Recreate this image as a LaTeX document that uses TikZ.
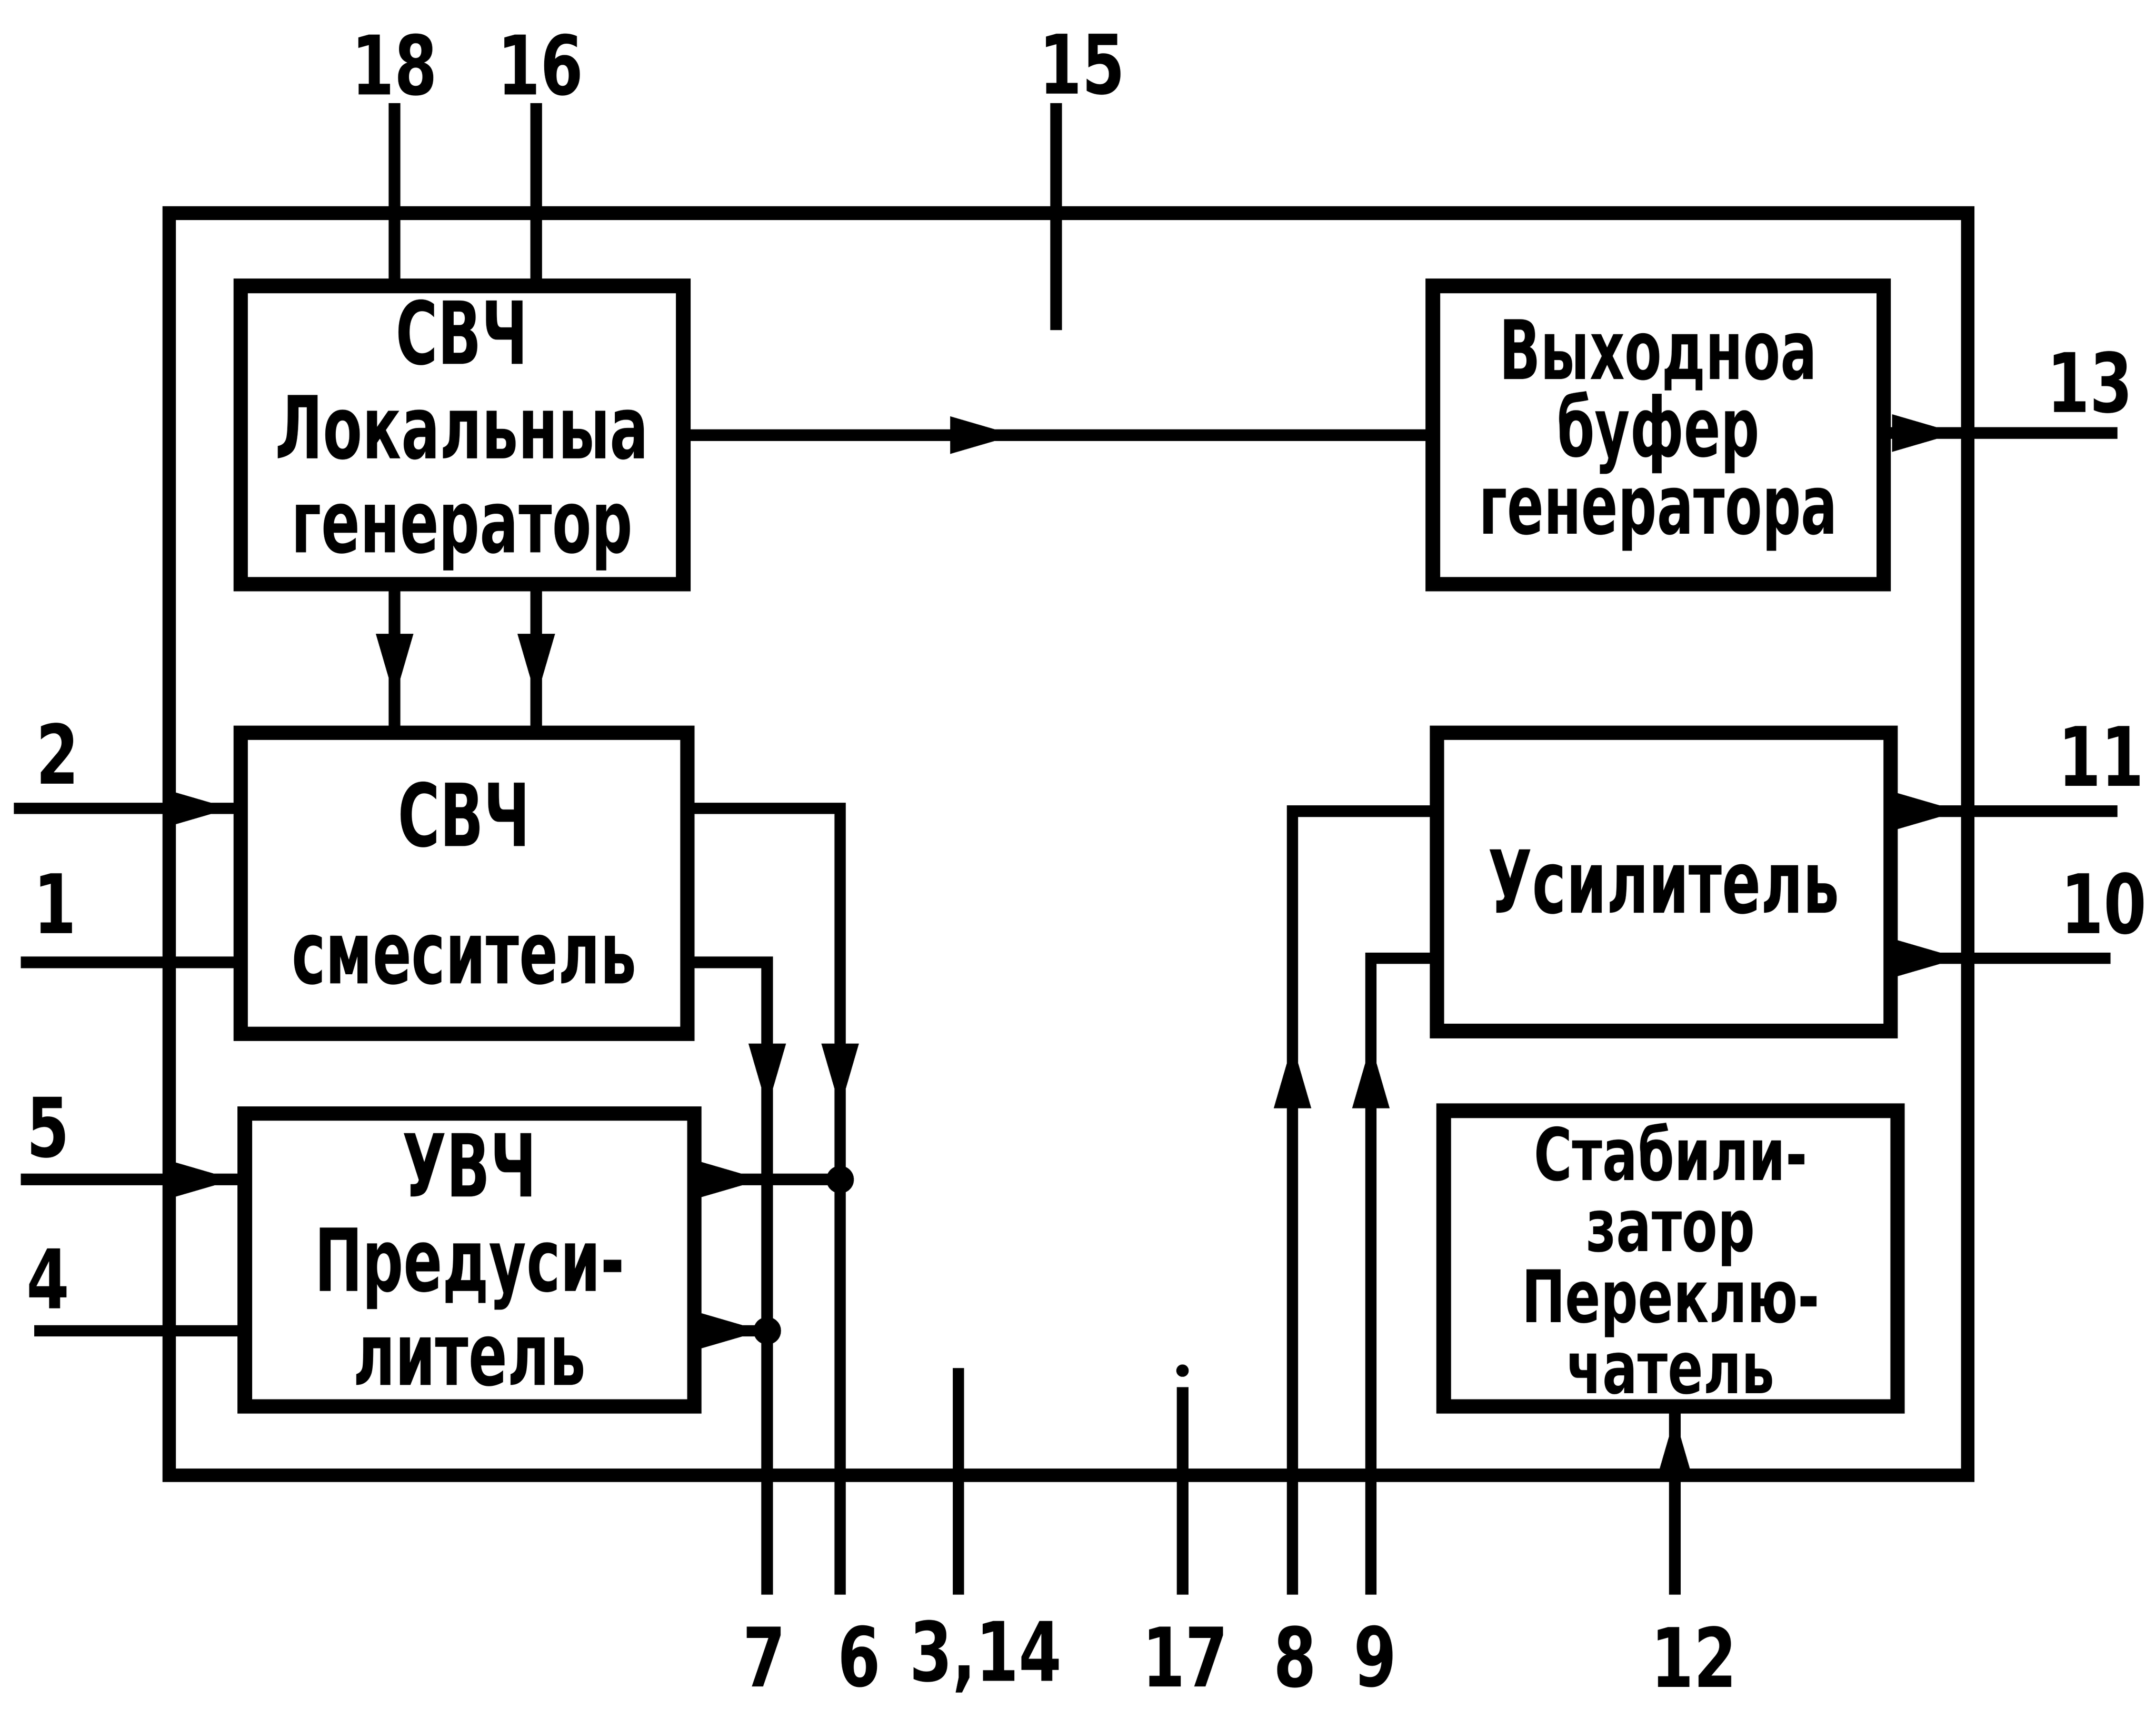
\documentclass[tikz,border=0pt]{standalone}
\usepackage{fontspec}
\newfontfamily\boxfont[FakeStretch=0.66]{DejaVu Sans}
\newfontfamily\stabfont[FakeStretch=0.72]{DejaVu Sans}
\newfontfamily\numfont[FakeStretch=0.75]{DejaVu Sans}
\usetikzlibrary{arrows.meta,decorations.markings}

\newlength{\du}
\setlength{\du}{0.1mm}

\tikzset{
  block/.style={draw, line width=3pt, inner sep=0pt, align=center,
    font=\boxfont\bfseries\fontsize{18pt}{19.5pt}\selectfont},
  frame/.style={draw, line width=2.8pt, inner sep=0pt},
  lead/.style={line width=2.4pt},
  pinlabel/.style={inner sep=0pt, font=\numfont\bfseries\fontsize{17pt}{17pt}\selectfont},
  dot/.style={circle, fill, inner sep=0pt, minimum size=20\du},
  >={Triangle[length=14pt,width=7pt]},
  midarrow/.style={postaction={decorate,
    decoration={markings, mark=at position #1 with {\arrow{>}}}}}
}

\begin{document}
\begin{tikzpicture}
\pgftransformxscale{1.000000}
\pgftransformyscale{-1.000000}
\useasboundingbox (0\du,0\du) rectangle (1568\du,1243\du);
% case
\node[frame, minimum width=1308\du, minimum height=918\du] (case) at (777\du,614\du) {};
% blocks
\node[block, minimum width=322\du, minimum height=217\du] (lo) at (336\du,316.5\du) {СВЧ\\Локальныа\\генератор};
\node[block, minimum width=328\du, minimum height=217\du,
  font=\boxfont\bfseries\fontsize{17pt}{16pt}\selectfont] (buf) at (1206\du,316.5\du) {Выходноа\\буфер\\генератора};
\node[block, minimum width=325\du, minimum height=219\du] (mix) at (337.5\du,642.5\du) {СВЧ\\[9pt]смеситель};
\node[block, minimum width=330\du, minimum height=217\du] (amp) at (1210\du,641.5\du) {Усилитель};
\node[block, minimum width=327\du, minimum height=213\du] (pre) at (341.5\du,916.5\du) {УВЧ\\Предуси-\\литель};
\node[block, minimum width=330\du, minimum height=215\du,
  font=\stabfont\bfseries\fontsize{15pt}{14.7pt}\selectfont] (stab) at (1215\du,915.5\du) {Стабили-\\затор\\Переклю-\\чатель};
% pin ends
\coordinate (p18) at (287\du,75\du);
\coordinate (p16) at (390\du,75\du);
\coordinate (p15) at (768\du,75\du);
\coordinate (p15e) at (768\du,240\du);
\coordinate (p2) at (10\du,588\du);
\coordinate (p1) at (15\du,700\du);
\coordinate (p5) at (15\du,858\du);
\coordinate (p4) at (25\du,968\du);
\coordinate (p7) at (558\du,1160\du);
\coordinate (p6) at (611\du,1160\du);
\coordinate (p314) at (697\du,1160\du);
\coordinate (p314e) at (697\du,995\du);
\coordinate (p17) at (860\du,1160\du);
\coordinate (p17e) at (860\du,1009\du);
\coordinate (p8) at (940\du,1160\du);
\coordinate (p9) at (997\du,1160\du);
\coordinate (p12) at (1218\du,1160\du);
\coordinate (p13) at (1540\du,315\du);
\coordinate (p11) at (1540\du,590\du);
\coordinate (p10) at (1535\du,697\du);
% top leads
\draw[lead] (p18) -- (p18 |- lo.north);
\draw[lead] (p16) -- (p16 |- lo.north);
\draw[lead] (p15) -- (p15e);
\draw[lead, midarrow=238\du] (lo.east) -- (buf.west);
\draw[lead, midarrow=80\du] (p18 |- lo.south) -- (p18 |- mix.north);
\draw[lead, midarrow=80\du] (p16 |- lo.south) -- (p16 |- mix.north);
% left side
\draw[lead, midarrow=1] (p2) -- (p2 -| mix.west);
\draw[lead] (p1) -- (p1 -| mix.west);
\draw[lead, midarrow=1] (p5) -- (p5 -| pre.west);
\draw[lead] (p4) -- (p4 -| pre.west);
\draw[lead, midarrow=326\du] (p2 -| mix.east) -| (p6);
\draw[lead, midarrow=161\du] (p1 -| mix.east) -| (p7);
\draw[lead, midarrow=46\du] (p5 -| pre.east) -- (p5 -| p6);
\draw[lead, midarrow=46\du] (p4 -| pre.east) -- (p4 -| p7);
\node[dot] (j6) at (p5 -| p6) {};
\node[dot] (j7) at (p4 -| p7) {};
% bottom leads
\draw[lead] (p314e) -- (p314);
\node[dot, minimum size=9\du] (d17) at (860\du,997\du) {};
\draw[lead] (p17e) -- (p17);
\draw[lead, midarrow=403\du] (p8) |- (p11 -| amp.west);
\draw[lead, midarrow=403\du] (p9) |- (p10 -| amp.west);
\draw[lead, midarrow=1] (p12) -- (p12 |- stab.south);
% right side
\draw[lead, midarrow=50\du] (buf.east |- p13) -- (p13);
\draw[lead, midarrow=47\du] (amp.east |- p11) -- (p11);
\draw[lead, midarrow=47\du] (amp.east |- p10) -- (p10);
% pin numbers
\node[pinlabel] (l18) at (287\du,47\du) {18};
\node[pinlabel] (l16) at (393\du,47\du) {16};
\node[pinlabel] (l15) at (787\du,47\du) {15};
\node[pinlabel] (l13) at (1520\du,278\du) {13};
\node[pinlabel] (l2) at (42\du,548\du) {2};
\node[pinlabel] (l1) at (40\du,657\du) {1};
\node[pinlabel] (l5) at (35\du,820\du) {5};
\node[pinlabel] (l4) at (35\du,930\du) {4};
\node[pinlabel] (l11) at (1528\du,550\du) {11};
\node[pinlabel] (l10) at (1530\du,657\du) {10};
\node[pinlabel] (l7) at (556\du,1205\du) {7};
\node[pinlabel] (l6) at (625\du,1205\du) {6};
\node[pinlabel] (l314) at (717\du,1205\du) {3,14};
\node[pinlabel] (l17) at (862\du,1205\du) {17};
\node[pinlabel] (l8) at (942\du,1205\du) {8};
\node[pinlabel] (l9) at (1000\du,1205\du) {9};
\node[pinlabel] (l12) at (1232\du,1205\du) {12};
\end{tikzpicture}
\end{document}
